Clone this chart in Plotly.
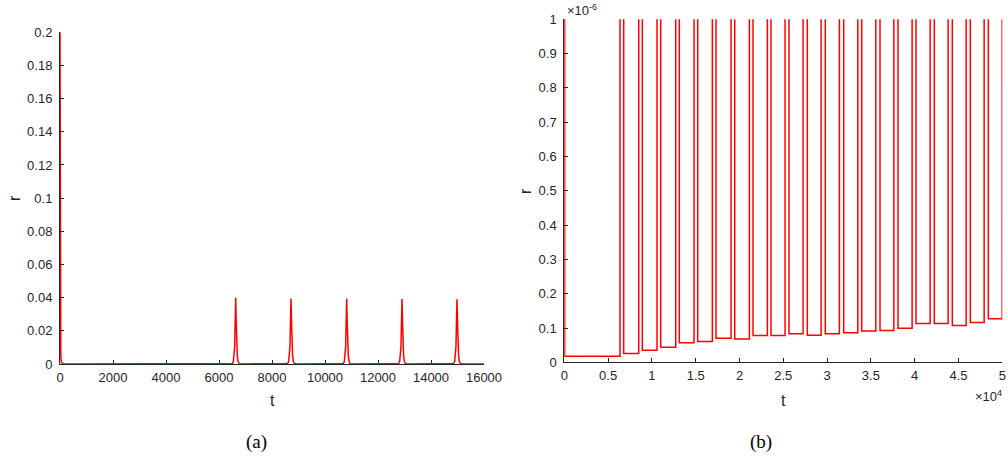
import plotly.graph_objects as go

W, H = 1008, 458

# ---------------- Panel (a) data ----------------
t_a = [0, 6, 15, 30, 60, 120, 300,
       6450, 6500, 6540, 6570, 6590, 6610, 6630, 6650, 6670, 6690, 6720, 6760, 6810,
       8537, 8587, 8627, 8657, 8677, 8697, 8717, 8737, 8757, 8777, 8807, 8847, 8897,
       10639, 10689, 10729, 10759, 10779, 10799, 10819, 10839, 10859, 10879, 10909, 10949, 10999,
       12726, 12776, 12816, 12846, 12866, 12886, 12906, 12926, 12946, 12966, 12996, 13036, 13086,
       14801, 14851, 14891, 14921, 14941, 14961, 14981, 15001, 15021, 15041, 15071, 15111, 15161,
       16000]
r_a = [0.2, 0.06, 0.015, 0.004, 0.0008, 0.0001, 0.00001,
       0, 0.0003, 0.0015, 0.005, 0.010, 0.025, 0.0400, 0.025, 0.010, 0.005, 0.0015, 0.0003, 0,
       0, 0.0003, 0.0015, 0.005, 0.010, 0.025, 0.0395, 0.025, 0.010, 0.005, 0.0015, 0.0003, 0,
       0, 0.0003, 0.0015, 0.005, 0.010, 0.025, 0.0393, 0.025, 0.010, 0.005, 0.0015, 0.0003, 0,
       0, 0.0003, 0.0015, 0.005, 0.010, 0.025, 0.0392, 0.025, 0.010, 0.005, 0.0015, 0.0003, 0,
       0, 0.0003, 0.0015, 0.005, 0.010, 0.025, 0.0390, 0.025, 0.010, 0.005, 0.0015, 0.0003, 0,
       0]

# ---------------- Panel (b) data ----------------
t0_b, r0_b = 0, 0.2           # initial value
rise_b = [6361, 8496, 10586, 12722, 14811, 16900, 19037, 21127, 23182, 25200, 27260,
          29315, 31405, 33506, 35562, 37617, 39706, 41762, 43818, 45874, 47929, 49985]
peak_t_b = [6570, 8699, 10794, 12923, 15018, 17107, 19242, 21331, 23386, 25420, 27496,
            29551, 31645, 33723, 35795, 37850, 39922, 41994, 44049, 46104, 48158]
peak_r_b = [0.0400, 0.0395, 0.0393, 0.0392, 0.0390, 0.0390, 0.0390, 0.0390, 0.0390, 0.0390,
            0.0390, 0.0390, 0.0390, 0.0390, 0.0390, 0.0390, 0.0390, 0.0390, 0.0390, 0.0390, 0.0390]
fall_b = [6781, 8905, 11005, 13128, 15229, 17318, 19453, 21542, 23597, 25652, 27741,
          29796, 31896, 33951, 36040, 38095, 40150, 42239, 44294, 46349, 48404]
plateau_b = [0.0175e-6, 0.026e-6, 0.035e-6, 0.044e-6, 0.057e-6, 0.061e-6, 0.070e-6, 0.068e-6,
             0.078e-6, 0.078e-6, 0.083e-6, 0.079e-6, 0.083e-6, 0.086e-6, 0.091e-6, 0.093e-6,
             0.099e-6, 0.113e-6, 0.113e-6, 0.107e-6, 0.116e-6, 0.127e-6]
t_end_b, r_end_b = 50000, 5e-6

xb = [t0_b, 40]
yb = [r0_b, plateau_b[0]]
for i in range(len(fall_b)):
    xb += [rise_b[i], peak_t_b[i], fall_b[i]]
    yb += [plateau_b[i], peak_r_b[i], plateau_b[i + 1]]
xb += [rise_b[-1], t_end_b]
yb += [plateau_b[-1], r_end_b]

# tick labels
xt_a = list(range(0, 16001, 2000))
yt_a = [0, 0.02, 0.04, 0.06, 0.08, 0.1, 0.12, 0.14, 0.16, 0.18, 0.2]
yt_a_txt = ["0", "0.02", "0.04", "0.06", "0.08", "0.1", "0.12", "0.14", "0.16", "0.18", "0.2"]
xt_b = [0, 5000, 10000, 15000, 20000, 25000, 30000, 35000, 40000, 45000, 50000]
xt_b_txt = ["0", "0.5", "1", "1.5", "2", "2.5", "3", "3.5", "4", "4.5", "5"]
yt_b = [i * 1e-7 for i in range(11)]
yt_b_txt = ["0", "0.1", "0.2", "0.3", "0.4", "0.5", "0.6", "0.7", "0.8", "0.9", "1"]

RED = "#ff0000"
AX = "#262626"
FONT = "Liberation Sans"

fig = go.Figure()
fig.add_trace(go.Scatter(x=t_a, y=r_a, mode="lines", line=dict(color=RED, width=1.5),
                         xaxis="x", yaxis="y", showlegend=False))
fig.add_trace(go.Scatter(x=xb, y=yb, mode="lines", line=dict(color=RED, width=1.5),
                         xaxis="x2", yaxis="y2", showlegend=False))

def px(x):
    return x / W

def py(y):
    return 1 - y / H

axis_common = dict(showline=True, linecolor=AX, linewidth=1, ticks="inside", ticklen=4,
                   tickcolor=AX, tickwidth=1, showgrid=False, zeroline=False, mirror=False,
                   automargin=False,
                   tickfont=dict(family=FONT, size=13, color=AX))

fig.update_layout(
    width=W, height=H,
    margin=dict(l=0, r=0, t=0, b=0, pad=0, autoexpand=False),
    paper_bgcolor="white", plot_bgcolor="white",
    xaxis=dict(domain=[px(60), px(484)], range=[0, 16000], tickvals=xt_a,
               ticktext=[str(v) for v in xt_a], anchor="y", ticklabelstandoff=1,
               **axis_common),
    yaxis=dict(domain=[py(364), py(32.3)], range=[0, 0.2], tickvals=yt_a,
               ticktext=yt_a_txt, anchor="x", ticklabelstandoff=4, **axis_common),
    xaxis2=dict(domain=[px(564.3), px(1002.3)], range=[0, 50000], tickvals=xt_b,
                ticktext=xt_b_txt, anchor="y2", ticklabelstandoff=1, **axis_common),
    yaxis2=dict(domain=[py(362.3), py(19.3)], range=[0, 1e-6], tickvals=yt_b,
                ticktext=yt_b_txt, anchor="x2", ticklabelstandoff=4, **axis_common),
)

def ann(text, x, y, size, family=FONT, angle=0, xanchor="center", yanchor="middle", color=AX):
    fig.add_annotation(text=text, x=px(x), y=py(y), xref="paper", yref="paper",
                       showarrow=False, textangle=angle, xanchor=xanchor, yanchor=yanchor,
                       font=dict(family=family, size=size, color=color))

ann("r", 14, 198, 16, angle=-90)
ann("t", 272, 400, 16)
ann("r", 526, 191, 16, angle=-90)
ann("t", 783, 400, 16)
ann("×10<sup>-6</sup>", 565, 10, 13, xanchor="left")
ann("×10<sup>4</sup>", 1004, 396, 13, xanchor="right")
ann("(a)", 256.5, 441.5, 19, family="Liberation Serif", color="black")
ann("(b)", 761, 441.5, 19, family="Liberation Serif", color="black")

fig.write_html("out.html")
